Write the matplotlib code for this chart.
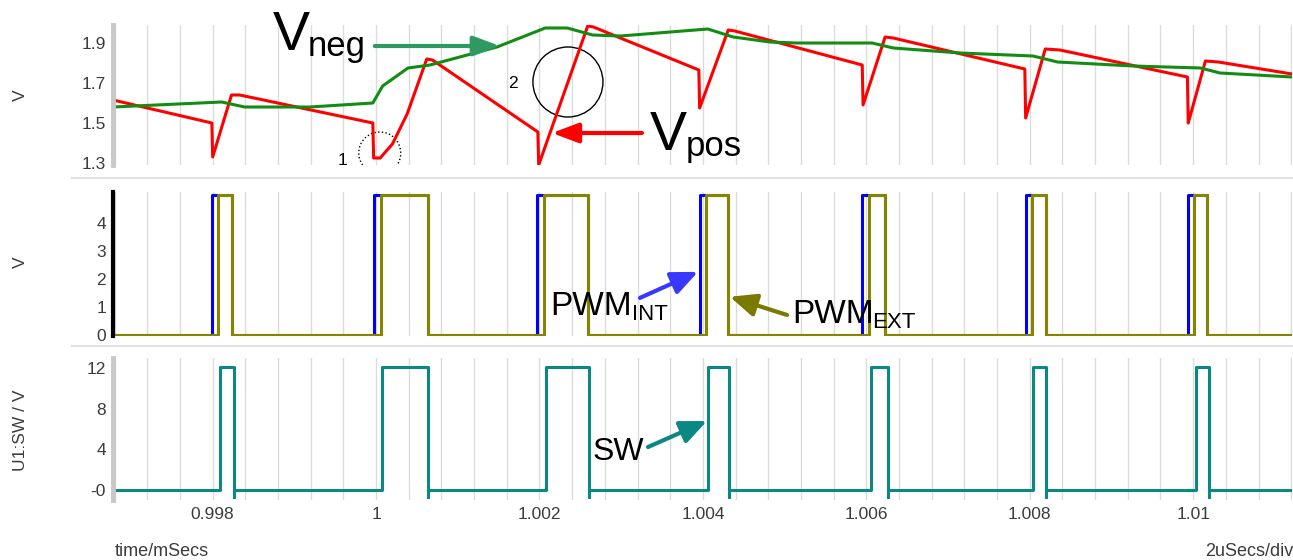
import matplotlib
matplotlib.use('Agg')
import matplotlib.pyplot as plt
from matplotlib.patches import Ellipse
from matplotlib.ticker import MultipleLocator
from matplotlib.lines import Line2D

plt.rcParams['font.family'] = ['Liberation Sans', 'DejaVu Sans']

# time axis (mSecs)
t_start, t_end = 0.99678, 1.01121
xtick_vals = [0.998, 1.0, 1.002, 1.004, 1.006, 1.008, 1.01]
xtick_labels = ['0.998', '1', '1.002', '1.004', '1.006', '1.008', '1.01']

# Vpos (red) and Vneg (green), top panel
vpos_t = [0.99678, 0.99799, 0.99800, 0.99823, 0.99833, 0.99996, 0.99997, 1.00005,
          1.00020, 1.00038, 1.00062, 1.00069, 1.00198, 1.00199, 1.00259, 1.00266,
          1.00395, 1.00396, 1.00431, 1.00439, 1.00595, 1.00596, 1.00623, 1.00633,
          1.00794, 1.00795, 1.00819, 1.00837, 1.00993, 1.00994, 1.01015, 1.01031, 1.01121]
vpos_v = [1.615, 1.50, 1.33, 1.64, 1.64, 1.50, 1.325, 1.325,
          1.395, 1.545, 1.82, 1.815, 1.455, 1.29, 1.985, 1.98,
          1.765, 1.575, 1.965, 1.96, 1.79, 1.59, 1.93, 1.925,
          1.77, 1.525, 1.87, 1.865, 1.73, 1.50, 1.81, 1.805, 1.745]

vneg_t = [0.99678, 0.99811, 0.99839, 0.99919, 0.99996, 1.00008, 1.00039, 1.00066,
          1.00148, 1.00207, 1.00234, 1.00265, 1.00299, 1.00406, 1.00437, 1.00482,
          1.00515, 1.00607, 1.00633, 1.00715, 1.00804, 1.00834, 1.00927, 1.01009,
          1.01033, 1.01121]
vneg_v = [1.58, 1.605, 1.58, 1.58, 1.60, 1.685, 1.775, 1.79,
          1.88, 1.975, 1.975, 1.94, 1.935, 1.97, 1.93, 1.905,
          1.90, 1.90, 1.875, 1.85, 1.835, 1.805, 1.785, 1.775,
          1.75, 1.73]

# PWM edges, middle panel
pwm_int_rise = [0.99799, 0.99997, 1.00197, 1.00396, 1.00595, 1.00795, 1.00994]
pwm_ext_rise = [0.99806, 1.00006, 1.00205, 1.00404, 1.00603, 1.00803, 1.01001]
pwm_fall = [0.99824, 1.00063, 1.00259, 1.00431, 1.00623, 1.00820, 1.01017]
pwm_hi = 5.0

# SW node, bottom panel
sw_rise = [0.99809, 1.00007, 1.00208, 1.00406, 1.00606, 1.00804, 1.01004]
sw_fall = [0.99826, 1.00063, 1.00261, 1.00432, 1.00626, 1.00820, 1.01019]
sw_hi, sw_lo, sw_dip = 12.1, 0.0, -0.6


def pulse_train(rises, falls, lo, hi, dip=None):
    t, v = [t_start], [lo]
    for r, f in zip(rises, falls):
        t += [r, r, f, f]
        v += [lo, hi, hi, dip if dip is not None else lo]
        if dip is not None:
            t.append(f)
            v.append(lo)
    t.append(t_end)
    v.append(lo)
    return t, v


W, H = 1293, 560
fig = plt.figure(figsize=(W / 100, H / 100), dpi=100)


def px_box(x0, y0, x1, y1):
    return [x0 / W, 1 - y1 / H, (x1 - x0) / W, (y1 - y0) / H]


ax1 = fig.add_axes(px_box(113, 25, 1292, 165))
ax2 = fig.add_axes(px_box(113, 192, 1292, 336))
ax3 = fig.add_axes(px_box(113, 358, 1292, 500))

for ax in (ax1, ax2, ax3):
    ax.set_xlim(t_start, t_end)
    ax.set_xticks(xtick_vals)
    ax.xaxis.set_minor_locator(MultipleLocator(0.0004))
    ax.grid(axis='x', which='both', color='#dcdcdc', lw=1)
    ax.set_axisbelow(True)
    for s in ('top', 'right', 'bottom'):
        ax.spines[s].set_visible(False)
    ax.spines['left'].set_color('#c8c8c8')
    ax.spines['left'].set_linewidth(3.5)
    ax.tick_params(which='both', length=0, labelsize=12.5, labelcolor='#3c3c3c', pad=5)
    ax.patch.set_alpha(0)

ax1.tick_params(labelbottom=False)
ax2.tick_params(labelbottom=False)
ax3.set_xticklabels(xtick_labels)

# top panel
ax1.set_ylim(1.29, 1.99)
ax1.set_yticks([1.3, 1.5, 1.7, 1.9], ['1.3', '1.5', '1.7', '1.9'])
ax1.plot(vpos_t, vpos_v, color='#ff0000', lw=2.2)
ax1.plot(vneg_t, vneg_v, color='#128c12', lw=2.2)

ax1.text(0.998735, 1.865, 'V', fontsize=40, va='baseline')
ax1.text(0.999163, 1.835, 'neg', fontsize=25, va='baseline')
ax1.annotate('', xy=(1.001515, 1.885), xytext=(0.999984, 1.885),
             arrowprops=dict(arrowstyle='-|>,head_length=0.8,head_width=0.3',
                             color='#2e9960', lw=3, mutation_scale=20, shrinkA=0, shrinkB=0))
ax1.text(1.003352, 1.365, 'V', fontsize=40, va='baseline')
ax1.text(1.003793, 1.335, 'pos', fontsize=25, va='baseline')
ax1.annotate('', xy=(1.002152, 1.45), xytext=(1.003254, 1.45),
             arrowprops=dict(arrowstyle='-|>,head_length=0.8,head_width=0.3',
                             color='#ff0000', lw=3, mutation_scale=20, shrinkA=0, shrinkB=0))
ax1.add_patch(Ellipse((1.000045, 1.35), 0.000514, 0.21, fill=False, ls=':', lw=1, color='black'))
ax1.add_patch(Ellipse((1.002348, 1.705), 0.000857, 0.35, fill=False, lw=1, color='black'))
ax1.text(0.999592, 1.315, '1', fontsize=12.5, ha='center', va='center')
ax1.text(1.001674, 1.70, '2', fontsize=12.5, ha='center', va='center')

# middle panel
ax2.set_ylim(-0.04, 5.1)
ax2.set_yticks([0, 1, 2, 3, 4], ['0', '1', '2', '3', '4'])
ax2.spines['left'].set_color('black')
ax2.spines['left'].set_linewidth(3)
t_int, v_int = pulse_train(pwm_int_rise, pwm_fall, 0, pwm_hi)
t_ext, v_ext = pulse_train(pwm_ext_rise, pwm_fall, 0, pwm_hi)
ax2.plot(t_int, v_int, color='#0000ff', lw=2.2)
ax2.plot(t_ext, v_ext, color='#858500', lw=2.2)

ax2.text(1.002127, 0.714, 'PWM', fontsize=24, va='baseline')
ax2.text(1.003132, 0.536, 'INT', fontsize=16, va='baseline')
ax2.annotate('', xy=(1.00394, 2.25), xytext=(1.00323, 1.32),
             arrowprops=dict(arrowstyle='-|>,head_length=0.8,head_width=0.35',
                             color='#3838ff', lw=3, mutation_scale=20, shrinkA=0, shrinkB=0))
ax2.text(1.005091, 0.43, 'PWM', fontsize=24, va='baseline')
ax2.text(1.006071, 0.25, 'EXT', fontsize=16, va='baseline')
ax2.annotate('', xy=(1.00433, 1.36), xytext=(1.00503, 0.71),
             arrowprops=dict(arrowstyle='-|>,head_length=0.8,head_width=0.35',
                             color='#7a7a00', lw=3, mutation_scale=20, shrinkA=0, shrinkB=0))

# bottom panel
ax3.set_ylim(-0.93, 12.93)
ax3.set_yticks([0, 4, 8, 12], ['-0', '4', '8', '12'])
t_sw, v_sw = pulse_train(sw_rise, sw_fall, sw_lo, sw_hi, dip=sw_dip)
ax3.plot(t_sw, v_sw, color='#0b8784', lw=2.2)
ax3.text(1.002654, 2.98, 'SW', fontsize=23, va='baseline')
ax3.annotate('', xy=(1.00405, 6.78), xytext=(1.003328, 4.24),
             arrowprops=dict(arrowstyle='-|>,head_length=0.8,head_width=0.35',
                             color='#0b8784', lw=3, mutation_scale=20, shrinkA=0, shrinkB=0))

# axis labels
lab = dict(fontsize=12.5, color='#3c3c3c', rotation=90, ha='center', va='center')
fig.text(20 / W, 1 - 95 / H, 'V', **lab)
fig.text(20 / W, 1 - 262 / H, 'V', **lab)
fig.text(21 / W, 1 - 430 / H, 'U1:SW / V', **lab)
fig.text(115 / W, 1 - 552 / H, 'time/mSecs', fontsize=13, color='#3c3c3c', va='center')
fig.text(1293 / W, 1 - 552 / H, '2uSecs/div', fontsize=13, color='#3c3c3c', va='center', ha='right')

# panel separators
for yy in (178, 346):
    fig.add_artist(Line2D([72 / W, 1], [1 - yy / H, 1 - yy / H], color='#e2e2e2', lw=1.5))

fig.savefig('out.png', dpi=100)
